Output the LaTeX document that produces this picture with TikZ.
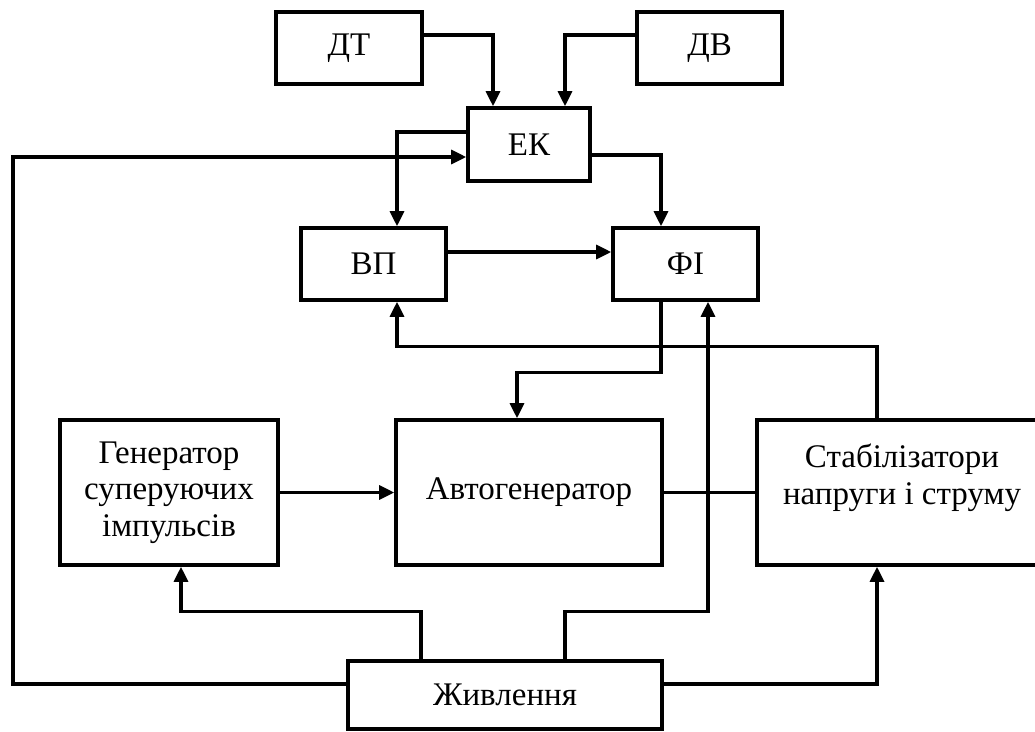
\documentclass[tikz,border=0pt]{standalone}
\usepackage{fontspec}
\setmainfont{Liberation Serif}
\usetikzlibrary{arrows.meta}
\begin{document}
\begin{tikzpicture}[x=1pt,y=-1pt,
  blk/.style={draw,line width=3.6pt,inner sep=0pt,align=center,
    font=\fontsize{33}{36.5}\selectfont},
  wire/.style={line width=3.2pt},
  arr/.style={wire,-{Triangle[length=15pt,width=14pt]}}]
\useasboundingbox (0,0) rectangle (1035,731);
\node[blk,minimum width=146pt,minimum height=72pt] (dt) at (349,48) {ДТ};
\node[blk,minimum width=145pt,minimum height=72pt] (dv) at (709.5,48) {ДВ};
\node[blk,minimum width=122pt,minimum height=73pt] (ek) at (529,144.5) {ЕК};
\node[blk,minimum width=145pt,minimum height=72pt] (vp) at (373.5,264) {ВП};
\node[blk,minimum width=145pt,minimum height=72pt] (fi) at (685.5,264) {ФІ};
\node[blk,minimum width=218pt,minimum height=145pt] (gen) at (169,492.5) {Генератор\\суперуючих\\імпульсів};
\node[blk,minimum width=266pt,minimum height=145pt] (avto) at (529,492.5) {Автогенератор};
\node[blk,minimum width=290pt,minimum height=145pt] (stab) at (902,492.5) {Стабілізатори\\напруги і струму\\ \mbox{}};
\node[blk,minimum width=314pt,minimum height=68pt] (zhyv) at (505,695) {Живлення};

\draw[arr] ([yshift=13pt]dt.east) -| ([xshift=-36pt]ek.north);
\draw[arr] ([yshift=13pt]dv.west) -| ([xshift=36pt]ek.north);
\draw[arr] ([yshift=12.5pt]ek.west) -| ([xshift=23.5pt]vp.north);
\draw[arr] ([yshift=11pt]zhyv.west) -| (13,157) |- ([yshift=-12.5pt]ek.west);
\draw[arr] ([yshift=-10.5pt]ek.east) -| ([xshift=-24.5pt]fi.north);
\draw[arr] ([yshift=12pt]vp.east) -- ([yshift=12pt]fi.west);
\draw[arr] ([xshift=-24.5pt]fi.south) -- ++(0,-71pt) -| ([xshift=-12pt]avto.north);
\draw[arr] ([xshift=-25pt]stab.north) -- ++(0,72pt) -| ([xshift=23.5pt]vp.south);
\draw[arr] (gen) -- (avto);
\draw[wire] (avto) -- (stab);
\draw[arr] ([xshift=-84pt]zhyv.north) -- ++(0,48pt) -| ([xshift=12pt]gen.south);
\draw[arr] ([xshift=60pt]zhyv.north) -- ++(0,48pt) -| ([xshift=22.5pt]fi.south);
\draw[arr] ([yshift=11pt]zhyv.east) -| ([xshift=-25pt]stab.south);
\end{tikzpicture}
\end{document}
